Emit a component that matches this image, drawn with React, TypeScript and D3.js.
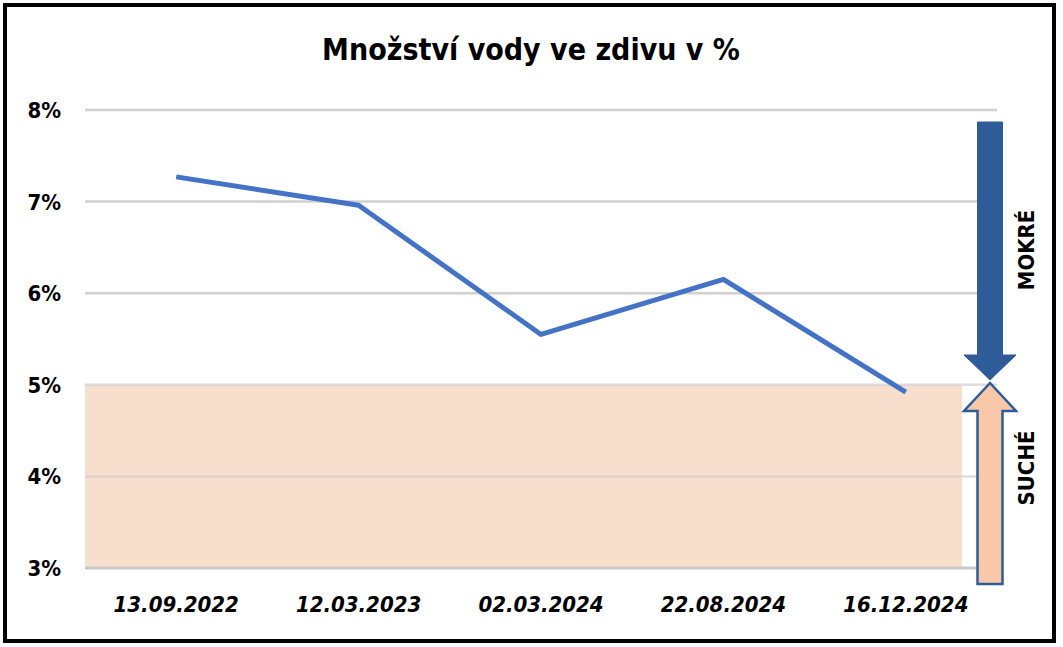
import React from "react";
import * as d3 from "d3";

const categories = ["13.09.2022", "12.03.2023", "02.03.2024", "22.08.2024", "16.12.2024"];
const values = [7.27, 6.96, 5.55, 6.15, 4.92];
const yTicks = [3, 4, 5, 6, 7, 8];
const dryLimit = 5;
const title = "Množství vody ve zdivu v %";
const wetLabel = "MOKRÉ";
const dryLabel = "SUCHÉ";

const W = 1063;
const H = 647;
const FONT = "'Liberation Sans Narrow', 'DejaVu Sans Condensed', 'Open Sans', sans-serif";

export default function App() {
  const left = 85, right = 997, top = 110, bottom = 568;
  const x = d3.scaleBand<string>().domain(categories).range([left, right]).padding(0);
  const y = d3.scaleLinear().domain([3, 8]).range([bottom, top]);
  const cx = (c: string) => (x(c) as number) + x.bandwidth() / 2;
  const line = d3.line<number>().x((_, i) => cx(categories[i])).y((d) => y(d));

  const yDry = y(dryLimit);
  const shadeRight = 962;

  // arrows
  const ax = 990;
  const shaftHalf = 12.5;
  const headHalf = 26;
  const downTop = 122, downHeadStart = 355, downTip = 380;
  const upTip = 383, upHeadBase = 411, upBottom = 584;

  const downArrow = [
    [ax - shaftHalf, downTop], [ax + shaftHalf, downTop], [ax + shaftHalf, downHeadStart],
    [ax + headHalf, downHeadStart], [ax, downTip], [ax - headHalf, downHeadStart],
    [ax - shaftHalf, downHeadStart],
  ];
  const upArrow = [
    [ax, upTip], [ax + headHalf, upHeadBase], [ax + shaftHalf, upHeadBase],
    [ax + shaftHalf, upBottom], [ax - shaftHalf, upBottom], [ax - shaftHalf, upHeadBase],
    [ax - headHalf, upHeadBase],
  ];
  const poly = (pts: number[][]) => "M" + pts.map((p) => p.join(",")).join("L") + "Z";

  return (
    <svg width={W} height={H} style={{ position: "absolute", left: 0, top: 0, background: "#fff" }}>
      <rect x={0} y={0} width={W} height={H} fill="#fff" />
      <rect x={5} y={5} width={1049} height={636} fill="none" stroke="#000" strokeWidth={4} />
      <text x={531} y={60} textAnchor="middle" fontFamily={FONT} fontWeight="bold" fontSize={30} fill="#000">
        {title}
      </text>
      {/* dry zone shading */}
      <rect x={left} y={yDry} width={shadeRight - left} height={y(3) - yDry} fill="#F8DECC" />
      {/* gridlines */}
      {yTicks.map((t) => (
        <line key={t} x1={left} x2={right} y1={y(t)} y2={y(t)} stroke={t === 3 ? "#C8C8C8" : "#D0D0D0"} strokeWidth={t === 3 ? 3 : 2.5} opacity={t === 4 || t === 5 ? 0.7 : 1} />
      ))}
      {yTicks.map((t) => (
        <text key={"l" + t} x={61} y={y(t) + 8} textAnchor="end" fontFamily={FONT} fontWeight="bold" fontSize={22} fill="#000">
          {t}%
        </text>
      ))}
      {categories.map((c) => (
        <text key={c} x={cx(c)} y={612} textAnchor="middle" fontFamily={FONT} fontWeight="bold" fontStyle="italic" fontSize={22} fill="#000">
          {c}
        </text>
      ))}
      <path d={line(values) as string} fill="none" stroke="#4472C4" strokeWidth={5} strokeLinejoin="round" strokeLinecap="butt" />
      <path d={poly(downArrow)} fill="#2E5C99" stroke="#2E5C99" strokeWidth={1} />
      <path d={poly(upArrow)} fill="#F8C8A8" stroke="#2E5C99" strokeWidth={2.5} />
      <text transform={`translate(1034,250) rotate(-90)`} textAnchor="middle" fontFamily={FONT} fontWeight="bold" fontSize={22} fill="#000">
        {wetLabel}
      </text>
      <text transform={`translate(1034,468) rotate(-90)`} textAnchor="middle" fontFamily={FONT} fontWeight="bold" fontSize={22} fill="#000">
        {dryLabel}
      </text>
    </svg>
  );
}
